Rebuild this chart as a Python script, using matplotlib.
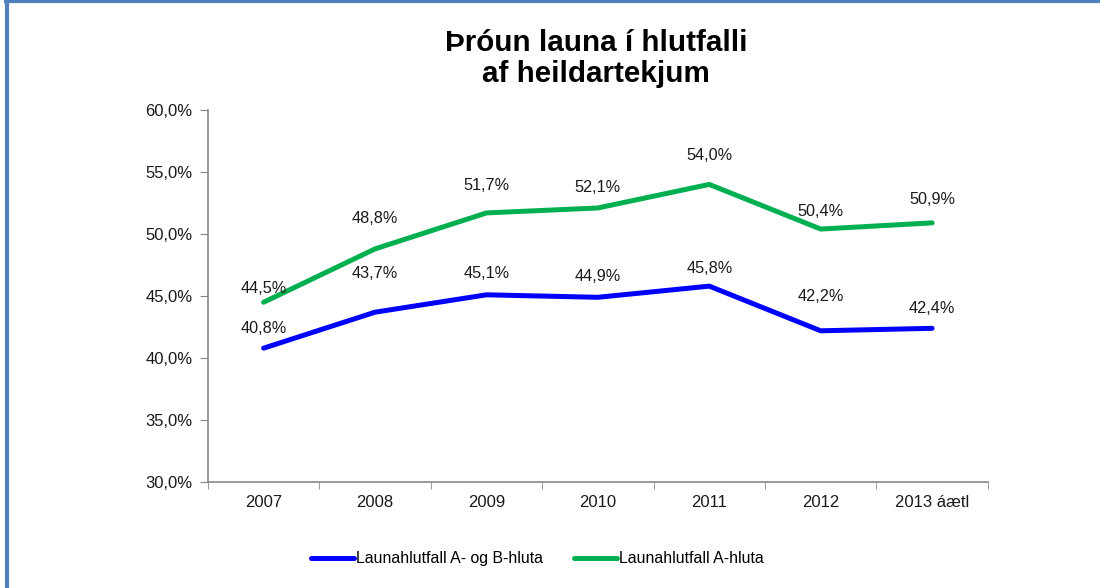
import matplotlib as mpl
mpl.use('Agg')
import matplotlib.pyplot as plt
from matplotlib.lines import Line2D

plt.rcParams['font.family'] = ['Liberation Sans', 'DejaVu Sans']

# Gögn
years = ["2007", "2008", "2009", "2010", "2011", "2012", "2013 áætl"]
ab_hluti = [40.8, 43.7, 45.1, 44.9, 45.8, 42.2, 42.4]
a_hluti = [44.5, 48.8, 51.7, 52.1, 54.0, 50.4, 50.9]
ab_name = "Launahlutfall A- og B-hluta"
a_name = "Launahlutfall A-hluta"

# lóðrétt hliðrun merkja (punktar)
ab_off = [14, 28, 15, 15, 13, 25, 14]
a_off = [10, 22, 20, 15, 21, 13, 17]

blue = "#0000FF"
green = "#00B050"
axcol = "#868686"
fs = 12

fig = plt.figure(figsize=(11, 5.88), dpi=100)
ax = fig.add_axes([0.189, 0.180, 0.709, 0.633])

x = list(range(len(years)))
ax.plot(x, ab_hluti, color=blue, lw=3.6, solid_capstyle='round', solid_joinstyle='round')
ax.plot(x, a_hluti, color=green, lw=3.6, solid_capstyle='round', solid_joinstyle='round')

def fmt(v):
    return "{:.1f}%".format(v).replace(".", ",")

for i in x:
    ax.annotate(fmt(ab_hluti[i]), (i, ab_hluti[i]), xytext=(0, ab_off[i]),
                textcoords='offset points', ha='center', va='center', fontsize=fs - 0.3, color='#1a1a1a')
    ax.annotate(fmt(a_hluti[i]), (i, a_hluti[i]), xytext=(0, a_off[i]),
                textcoords='offset points', ha='center', va='center', fontsize=fs - 0.3, color='#1a1a1a')

ax.set_xlim(-0.5, len(years) - 0.5)
ax.set_ylim(30, 60)
yt = [30, 35, 40, 45, 50, 55, 60]
ax.set_yticks(yt)
ax.set_yticklabels([fmt(v) for v in yt], fontsize=fs, color='#1a1a1a')
ax.set_xticks(x)
ax.set_xticklabels(years, fontsize=fs, color='#1a1a1a')
ax.set_xticks([i - 0.5 for i in range(len(years) + 1)], minor=True)
ax.tick_params(axis='x', which='major', length=0, pad=9)
ax.tick_params(axis='x', which='minor', length=5, color=axcol, direction='out')
ax.tick_params(axis='y', length=6, color=axcol, pad=5)

for s in ['top', 'right']:
    ax.spines[s].set_visible(False)
for s in ['left', 'bottom']:
    ax.spines[s].set_color(axcol)
    ax.spines[s].set_linewidth(1.2)

fig.text(0.542, 0.9005, "Þróun launa í hlutfalli\naf heildartekjum", ha='center', va='center',
         fontsize=21.3, fontweight='bold', linespacing=1.1)

handles = [Line2D([], [], color=blue, lw=3.6, solid_capstyle='round'),
           Line2D([], [], color=green, lw=3.6, solid_capstyle='round')]
fig.legend(handles, [ab_name, a_name], loc='center', bbox_to_anchor=(0.4886, 0.05), ncol=2,
           frameon=False, fontsize=11.4, handlelength=2.7, handletextpad=0.1, columnspacing=2.0)

# blár rammi
fig.add_artist(Line2D([0.0064, 0.0064], [0, 1], color='#4F81BD', lw=3, transform=fig.transFigure))
fig.add_artist(Line2D([0.005, 1], [0.998, 0.998], color='#4F81BD', lw=3, transform=fig.transFigure))

fig.savefig("out.png", dpi=100)
